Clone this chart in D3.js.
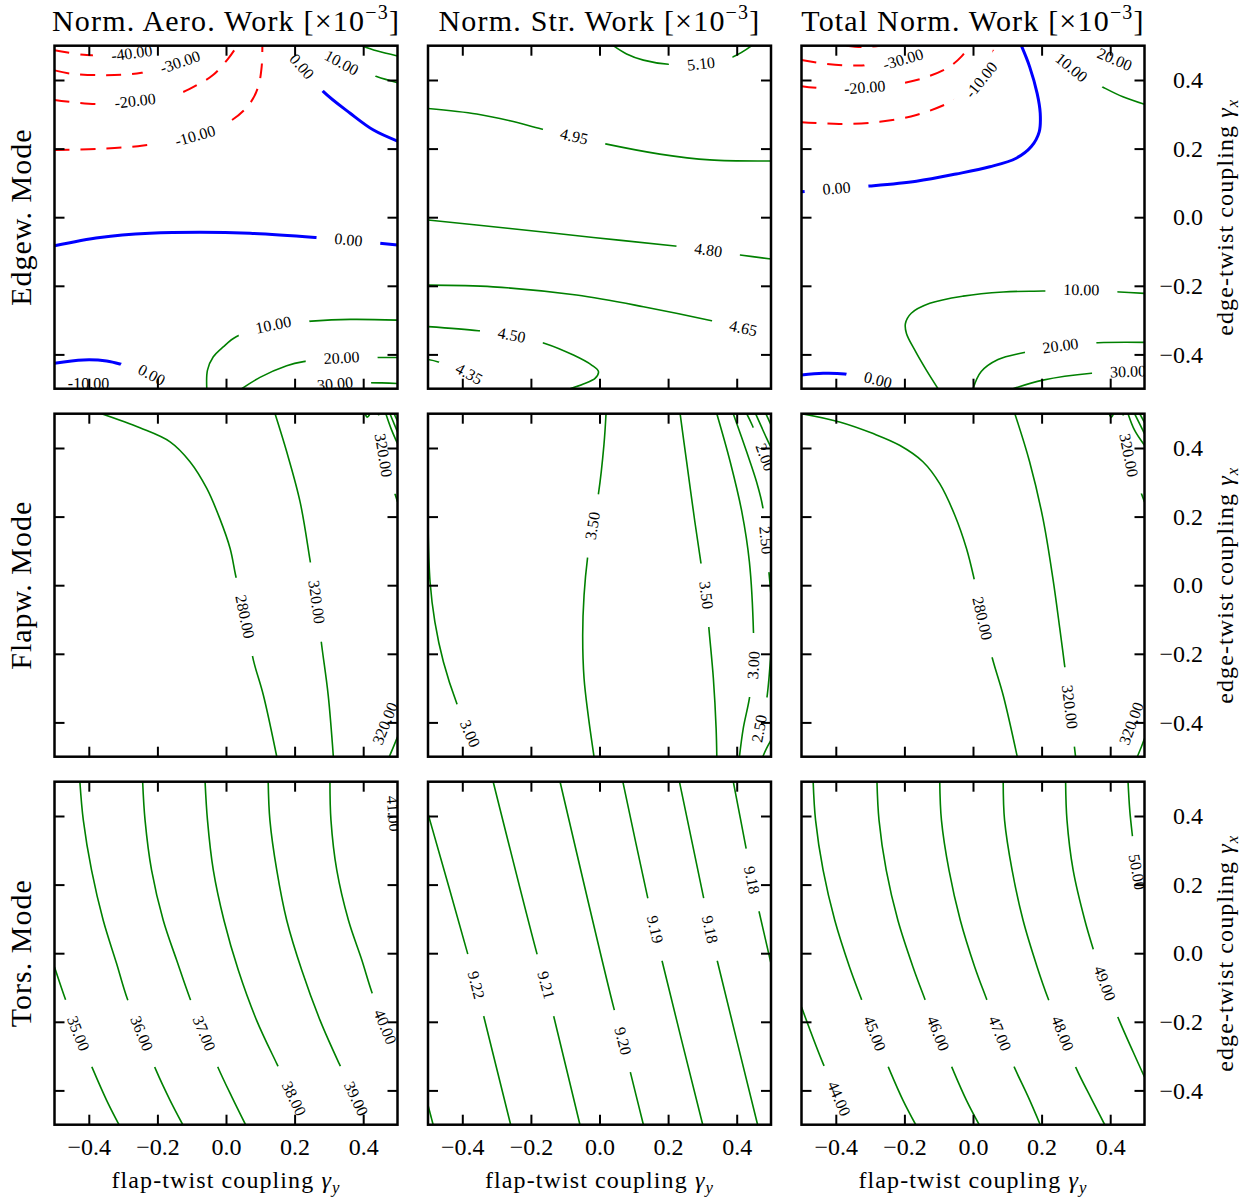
<!DOCTYPE html>
<html>
<head>
<meta charset="utf-8">
<script src="https://cdn.jsdelivr.net/npm/d3@7"></script>
<style>
  body { margin: 0; background: #fff; }
  svg text { font-family: "Liberation Serif", "Times New Roman", serif; }
</style>
</head>
<body>
<svg id="chart" width="1253" height="1201"></svg>
<script>
// Contour levels of the normalized work maps over (flap-twist coupling γy, edge-twist coupling γx).
// Each level holds its polylines as [γy, γx] points and the points where its inline labels sit.

const aeroEdgew = [
  { level: -40, lines: [[[-0.5,0.487],[-0.406,0.473],[-0.275,0.478],[-0.202,0.5]]], labels: [[-0.275,0.478]] },
  { level: -30, lines: [[[-0.5,0.428],[-0.455,0.419],[-0.353,0.414],[-0.246,0.421],[-0.134,0.452],[-0.086,0.476],[-0.054,0.5]]], labels: [[-0.134,0.452]] },
  { level: -20, lines: [[[-0.5,0.342],[-0.377,0.330],[-0.265,0.339],[-0.149,0.356],[-0.076,0.390],[-0.037,0.415],[0.007,0.463],[0.033,0.5]]], labels: [[-0.265,0.339]] },
  { level: -10, lines: [[[-0.5,0.196],[-0.377,0.199],[-0.241,0.209],[-0.090,0.237],[0.017,0.283],[0.070,0.332],[0.094,0.381],[0.104,0.439],[0.106,0.5]],
                        [[-0.465,-0.5],[-0.401,-0.486],[-0.338,-0.5]]], labels: [[-0.090,0.237],[-0.401,-0.486]] },
  { level: 0, lines: [[[0.167,0.5],[0.221,0.439],[0.284,0.366],[0.362,0.303],[0.430,0.254],[0.5,0.222]],
                      [[-0.5,-0.083],[-0.367,-0.059],[-0.222,-0.047],[-0.076,-0.044],[0.070,-0.047],[0.260,-0.059],[0.357,-0.067],[0.5,-0.081]],
                      [[-0.5,-0.426],[-0.416,-0.416],[-0.348,-0.419],[-0.309,-0.428],[-0.217,-0.460],[-0.173,-0.5]]],
    labels: [[0.221,0.439],[0.357,-0.066],[-0.217,-0.460]] },
  { level: 10, lines: [[[0.274,0.5],[0.337,0.450],[0.439,0.410],[0.5,0.392]],
                       [[-0.056,-0.5],[-0.054,-0.446],[-0.037,-0.407],[-0.008,-0.378],[0.031,-0.348],[0.138,-0.314],[0.250,-0.303],[0.362,-0.298],[0.5,-0.300]]],
    labels: [[0.337,0.450],[0.138,-0.314]] },
  { level: 20, lines: [[[0.396,0.5],[0.439,0.485],[0.5,0.470]],
                       [[0.046,-0.5],[0.099,-0.467],[0.177,-0.433],[0.226,-0.421],[0.337,-0.410],[0.449,-0.409],[0.5,-0.409]]],
    labels: [[0.337,-0.410]] },
  { level: 30, lines: [[[0.255,-0.5],[0.318,-0.486],[0.454,-0.483],[0.5,-0.485]]], labels: [[0.318,-0.486]] }
];

const strEdgew = [
  { level: 5.10, lines: [[[0.040,0.5],[0.079,0.476],[0.128,0.458],[0.201,0.446],[0.296,0.447],[0.390,0.468],[0.444,0.5]]], labels: [[0.296,0.447]] },
  { level: 4.95, lines: [[[-0.5,0.317],[-0.358,0.301],[-0.261,0.281],[-0.169,0.257],[-0.074,0.235],[0.021,0.213],[0.176,0.184],[0.322,0.167],[0.5,0.164]]], labels: [[-0.074,0.235]] },
  { level: 4.80, lines: [[[-0.5,-0.008],[-0.261,-0.033],[-0.018,-0.059],[0.220,-0.084],[0.317,-0.096],[0.410,-0.110],[0.5,-0.122]]], labels: [[0.317,-0.096]] },
  { level: 4.65, lines: [[[-0.5,-0.198],[-0.310,-0.203],[-0.067,-0.227],[0.128,-0.261],[0.327,-0.302],[0.419,-0.324],[0.5,-0.339]]], labels: [[0.419,-0.324]] },
  { level: 4.50, lines: [[[-0.5,-0.319],[-0.353,-0.331],[-0.256,-0.344],[-0.159,-0.368],[-0.076,-0.402],[-0.023,-0.431],[-0.003,-0.450],[-0.013,-0.470],[-0.047,-0.486],[-0.086,-0.5]]], labels: [[-0.256,-0.344]] },
  { level: 4.35, lines: [[[-0.5,-0.415],[-0.470,-0.422],[-0.380,-0.457],[-0.329,-0.5]]], labels: [[-0.380,-0.457]] }
];

const totalEdgew = [
  { level: -40, lines: [[[-0.369,0.5],[-0.321,0.496],[-0.272,0.5]]], labels: [] },
  { level: -30, lines: [[[-0.5,0.458],[-0.428,0.447],[-0.340,0.442],[-0.262,0.449],[-0.204,0.460],[-0.146,0.483],[-0.117,0.5]]], labels: [[-0.204,0.460]] },
  { level: -20, lines: [[[-0.5,0.382],[-0.428,0.375],[-0.316,0.378],[-0.199,0.392],[-0.126,0.412],[-0.068,0.439],[-0.034,0.468],[-0.010,0.5]]], labels: [[-0.316,0.378]] },
  { level: -10, lines: [[[-0.5,0.277],[-0.389,0.272],[-0.272,0.278],[-0.165,0.298],[-0.078,0.330],[-0.019,0.361],[0.024,0.400],[0.049,0.444],[0.063,0.5]]], labels: [[0.024,0.400]] },
  { level: 0, lines: [[[0.141,0.5],[0.165,0.439],[0.187,0.361],[0.196,0.303],[0.193,0.249],[0.170,0.206],[0.126,0.172],[0.049,0.147],[-0.049,0.126],[-0.165,0.105],[-0.301,0.091],[-0.398,0.084],[-0.5,0.074]],
                      [[-0.5,-0.460],[-0.437,-0.455],[-0.374,-0.457],[-0.277,-0.475],[-0.204,-0.5]]],
    labels: [[-0.398,0.084],[-0.277,-0.475]] },
  { level: 10, lines: [[[0.219,0.5],[0.287,0.436],[0.340,0.400],[0.379,0.379],[0.437,0.351],[0.5,0.329]],
                       [[-0.102,-0.5],[-0.136,-0.446],[-0.170,-0.387],[-0.194,-0.339],[-0.197,-0.310],[-0.180,-0.280],[-0.126,-0.251],[-0.029,-0.230],[0.088,-0.218],[0.204,-0.215],[0.316,-0.212],[0.428,-0.218],[0.5,-0.222]]],
    labels: [[0.287,0.436],[0.316,-0.212]] },
  { level: 20, lines: [[[0.345,0.5],[0.413,0.460],[0.5,0.434]],
                       [[0.0,-0.5],[0.024,-0.450],[0.073,-0.415],[0.146,-0.395],[0.255,-0.375],[0.365,-0.366],[0.5,-0.365]]],
    labels: [[0.413,0.460],[0.255,-0.375]] },
  { level: 30, lines: [[[0.117,-0.5],[0.204,-0.475],[0.345,-0.455],[0.452,-0.450],[0.5,-0.449]]], labels: [[0.452,-0.450]] }
];

const aeroFlapw = [
  { level: 280, lines: [[[-0.363,0.5],[-0.251,0.459],[-0.163,0.418],[-0.105,0.360],[-0.056,0.282],[-0.018,0.194],[0.012,0.107],[0.028,0.029],[0.055,-0.092],[0.080,-0.219],[0.109,-0.321],[0.148,-0.5]],
                        [[0.466,0.5],[0.483,0.452],[0.5,0.413]]],
    labels: [[0.055,-0.092]] },
  { level: 320, lines: [[[0.143,0.5],[0.177,0.389],[0.216,0.243],[0.245,0.073],[0.264,-0.049],[0.279,-0.175],[0.298,-0.321],[0.313,-0.5]],
                        [[0.444,0.5],[0.457,0.447],[0.467,0.379],[0.480,0.311],[0.5,0.243]],
                        [[0.476,-0.5],[0.490,-0.467],[0.5,-0.442]]],
    labels: [[0.264,-0.049],[0.459,0.379],[0.464,-0.403]] },
  { level: 360, lines: [[[0.405,0.5],[0.412,0.490],[0.420,0.5]]], labels: [] },
  { level: 240, lines: [[[0.478,0.5],[0.5,0.447]]], labels: [] },
  { level: 200, lines: [[[0.490,0.5],[0.5,0.478]]], labels: [] }
];

const strFlapw = [
  { level: 3.00, lines: [[[-0.5,0.185],[-0.494,0.010],[-0.480,-0.107],[-0.455,-0.224],[-0.416,-0.345],[-0.378,-0.433],[-0.348,-0.5]],
                         [[0.342,0.5],[0.381,0.360],[0.415,0.214],[0.437,0.068],[0.449,-0.141],[0.449,-0.233],[0.437,-0.330],[0.419,-0.418],[0.408,-0.5]]],
    labels: [[-0.378,-0.433],[0.449,-0.233]] },
  { level: 3.50, lines: [[[0.019,0.5],[0.013,0.410],[-0.003,0.267],[-0.020,0.173],[-0.035,0.078],[-0.045,-0.029],[-0.049,-0.146],[-0.045,-0.272],[-0.033,-0.379],[-0.016,-0.5]],
                         [[0.235,0.5],[0.254,0.360],[0.278,0.185],[0.296,0.063],[0.311,-0.029],[0.319,-0.126],[0.332,-0.272],[0.340,-0.418],[0.342,-0.5]]],
    labels: [[-0.020,0.173],[0.311,-0.029]] },
  { level: 2.50, lines: [[[0.390,0.5],[0.429,0.389],[0.458,0.301],[0.476,0.228],[0.485,0.131],[0.493,0.049],[0.5,-0.029]],
                         [[0.5,-0.195],[0.489,-0.321],[0.476,-0.398],[0.464,-0.457],[0.458,-0.5]]],
    labels: [[0.485,0.131],[0.466,-0.418]] },
  { level: 2.00, lines: [[[0.429,0.5],[0.445,0.467],[0.483,0.373],[0.5,0.321]],
                         [[0.476,-0.5],[0.487,-0.476],[0.5,-0.452]]],
    labels: [[0.483,0.373]] },
  { level: 1.50, lines: [[[0.455,0.5],[0.487,0.429],[0.5,0.402]]], labels: [] },
  { level: 1.00, lines: [[[0.485,0.5],[0.5,0.467]]], labels: [] }
];

const totalFlapw = [
  { level: 280, lines: [[[-0.5,0.5],[-0.389,0.476],[-0.291,0.442],[-0.214,0.408],[-0.146,0.360],[-0.097,0.296],[-0.053,0.204],[-0.019,0.107],[0.002,0.024],[0.027,-0.097],[0.058,-0.219],[0.088,-0.321],[0.129,-0.5]],
                        [[0.452,0.5],[0.471,0.452],[0.5,0.408]]],
    labels: [[0.027,-0.097]] },
  { level: 320, lines: [[[0.122,0.5],[0.165,0.360],[0.204,0.194],[0.233,0.019],[0.253,-0.126],[0.267,-0.233],[0.282,-0.355],[0.299,-0.5]],
                        [[0.437,0.5],[0.449,0.447],[0.459,0.379],[0.476,0.311],[0.5,0.243]],
                        [[0.479,-0.5],[0.491,-0.471],[0.5,-0.447]]],
    labels: [[0.282,-0.355],[0.454,0.379],[0.462,-0.403]] },
  { level: 360, lines: [[[0.397,0.5],[0.403,0.490],[0.410,0.5]]], labels: [] },
  { level: 240, lines: [[[0.471,0.5],[0.5,0.442]]], labels: [] },
  { level: 200, lines: [[[0.486,0.5],[0.5,0.474]]], labels: [] }
];

const aeroTors = [
  { level: 35, lines: [[[-0.5,-0.040],[-0.469,-0.132],[-0.431,-0.234],[-0.387,-0.341],[-0.348,-0.429],[-0.312,-0.5]]], labels: [[-0.431,-0.234]] },
  { level: 36, lines: [[[-0.426,0.5],[-0.416,0.388],[-0.392,0.242],[-0.358,0.096],[-0.319,-0.030],[-0.288,-0.132],[-0.246,-0.234],[-0.204,-0.341],[-0.163,-0.429],[-0.126,-0.5]]], labels: [[-0.246,-0.234]] },
  { level: 37, lines: [[[-0.243,0.5],[-0.236,0.388],[-0.217,0.242],[-0.183,0.096],[-0.144,-0.020],[-0.105,-0.132],[-0.064,-0.234],[-0.022,-0.336],[0.017,-0.419],[0.057,-0.5]]], labels: [[-0.064,-0.234]] },
  { level: 38, lines: [[[-0.061,0.5],[-0.054,0.388],[-0.037,0.242],[-0.006,0.096],[0.036,-0.050],[0.089,-0.195],[0.148,-0.322],[0.198,-0.424],[0.235,-0.5]]], labels: [[0.198,-0.424]] },
  { level: 39, lines: [[[0.123,0.5],[0.128,0.388],[0.148,0.242],[0.177,0.096],[0.221,-0.050],[0.274,-0.195],[0.330,-0.322],[0.379,-0.424],[0.415,-0.5]]], labels: [[0.379,-0.424]] },
  { level: 40, lines: [[[0.303,0.5],[0.306,0.388],[0.323,0.242],[0.357,0.096],[0.396,-0.020],[0.425,-0.113],[0.464,-0.215],[0.5,-0.293]]], labels: [[0.464,-0.215]] },
  { level: 41, lines: [[[0.484,0.5],[0.488,0.407],[0.5,0.330]]], labels: [[0.488,0.407]] }
];

const strTors = [
  { level: 9.23, lines: [[[-0.5,-0.443],[-0.485,-0.5]]], labels: [] },
  { level: 9.22, lines: [[[-0.5,0.407],[-0.385,0.001],[-0.360,-0.093],[-0.337,-0.186],[-0.259,-0.5]]], labels: [[-0.360,-0.093]] },
  { level: 9.21, lines: [[[-0.310,0.5],[-0.183,0.001],[-0.156,-0.093],[-0.133,-0.186],[-0.057,-0.5]]], labels: [[-0.156,-0.093]] },
  { level: 9.20, lines: [[[-0.115,0.5],[0.042,-0.161],[0.068,-0.256],[0.091,-0.351],[0.128,-0.5]]], labels: [[0.068,-0.256]] },
  { level: 9.19, lines: [[[0.068,0.5],[0.140,0.164],[0.162,0.069],[0.183,-0.025],[0.301,-0.5]]], labels: [[0.162,0.069]] },
  { level: 9.18, lines: [[[0.233,0.5],[0.303,0.164],[0.322,0.069],[0.344,-0.025],[0.461,-0.5]],
                         [[0.390,0.5],[0.427,0.308],[0.444,0.213],[0.466,0.118],[0.5,-0.030]]],
    labels: [[0.322,0.069],[0.444,0.213]] }
];

const totalTors = [
  { level: 44, lines: [[[-0.5,-0.157],[-0.437,-0.322],[-0.391,-0.424],[-0.360,-0.5]]], labels: [[-0.391,-0.424]] },
  { level: 45, lines: [[[-0.466,0.5],[-0.459,0.388],[-0.437,0.242],[-0.403,0.096],[-0.360,-0.040],[-0.326,-0.132],[-0.287,-0.234],[-0.243,-0.341],[-0.204,-0.429],[-0.167,-0.5]]], labels: [[-0.287,-0.234]] },
  { level: 46, lines: [[[-0.280,0.5],[-0.274,0.388],[-0.253,0.242],[-0.219,0.096],[-0.175,-0.040],[-0.141,-0.132],[-0.102,-0.234],[-0.058,-0.341],[-0.019,-0.429],[0.018,-0.5]]], labels: [[-0.102,-0.234]] },
  { level: 47, lines: [[[-0.097,0.5],[-0.092,0.388],[-0.070,0.242],[-0.037,0.096],[0.005,-0.040],[0.039,-0.132],[0.078,-0.234],[0.122,-0.336],[0.161,-0.419],[0.196,-0.5]]], labels: [[0.078,-0.234]] },
  { level: 48, lines: [[[0.088,0.5],[0.092,0.388],[0.114,0.242],[0.146,0.096],[0.187,-0.040],[0.219,-0.132],[0.261,-0.234],[0.301,-0.336],[0.345,-0.424],[0.384,-0.5]]], labels: [[0.261,-0.234]] },
  { level: 49, lines: [[[0.270,0.5],[0.274,0.388],[0.292,0.242],[0.326,0.096],[0.350,0.014],[0.384,-0.088],[0.426,-0.195],[0.467,-0.288],[0.5,-0.361]]], labels: [[0.384,-0.088]] },
  { level: 50, lines: [[[0.452,0.5],[0.457,0.417],[0.464,0.349],[0.478,0.237],[0.5,0.150]]], labels: [[0.478,0.237]] }
];

const tickValues = [-0.4, -0.2, 0.0, 0.2, 0.4];
const columnTitles = ["Norm. Aero. Work", "Norm. Str. Work", "Total Norm. Work"];
const rowTitles = ["Edgew. Mode", "Flapw. Mode", "Tors. Mode"];
const xAxisLabel = ["flap-twist coupling ", "γ", "y"];
const yAxisLabel = ["edge-twist coupling ", "γ", "x"];

const panels = [
  [aeroEdgew, strEdgew, totalEdgew],
  [aeroFlapw, strFlapw, totalFlapw],
  [aeroTors, strTors, totalTors]
];

// ---- layout ----
const W = 1253, H = 1201;
const size = 343, left0 = 54.5, colStep = 373.5, top0 = 45.7, rowStep = 368;
const labelFont = 16, gapPad = 36, gapHeight = 18;

const svg = d3.select("#chart");
const defs = svg.append("defs");
const measure = svg.append("text").attr("font-size", labelFont).attr("visibility", "hidden");
const textWidth = s => { measure.text(s); return measure.node().getComputedTextLength(); };

// tangent direction of the contour at the vertex nearest a label, kept upright
function labelAngle(lines, px, py, x, y) {
  let best = null, bd = Infinity;
  lines.forEach(ln => {
    const pts = ln.map(d => [x(d[0]), y(d[1])]);
    pts.forEach((p, i) => {
      const dd = (p[0] - px) ** 2 + (p[1] - py) ** 2;
      if (dd < bd) { bd = dd; best = { pts, i }; }
    });
  });
  const { pts, i } = best;
  const a = pts[Math.max(0, i - 1)], b = pts[Math.min(pts.length - 1, i + 1)];
  let ang = Math.atan2(b[1] - a[1], b[0] - a[0]) * 180 / Math.PI;
  if (ang > 90) ang -= 180;
  if (ang <= -90) ang += 180;
  return ang;
}

function lineStyle(level) {
  if (level < 0) return { stroke: "#ff0000", width: 2, dash: "15,11" };
  if (level === 0) return { stroke: "#0000ff", width: 3, dash: null };
  return { stroke: "#008000", width: 1.6, dash: null };
}

const fmt = d3.format(".1f");
const blank = () => "";

panels.forEach((row, r) => row.forEach((contours, c) => {
  const x0 = left0 + c * colStep, y0 = top0 + r * rowStep;
  const x = d3.scaleLinear().domain([-0.5, 0.5]).range([x0, x0 + size]);
  const y = d3.scaleLinear().domain([-0.5, 0.5]).range([y0 + size, y0]);
  const pid = `p${r}${c}`;

  defs.append("clipPath").attr("id", "clip-" + pid)
    .append("rect").attr("x", x0).attr("y", y0).attr("width", size).attr("height", size);

  const plot = svg.append("g").attr("clip-path", `url(#clip-${pid})`);
  const linesG = plot.append("g");
  const labelsG = plot.append("g");
  const line = d3.line().x(d => x(d[0])).y(d => y(d[1])).curve(d3.curveCatmullRom.alpha(0.5));

  contours.forEach((ct, k) => {
    const txt = ct.level.toFixed(2);
    const tw = textWidth(txt);
    const labs = ct.labels.map(p => {
      const px = x(p[0]), py = y(p[1]);
      return { px, py, ang: labelAngle(ct.lines, px, py, x, y), txt };
    });

    // cut the line where its labels sit
    const mid = `m-${pid}-${k}`;
    const mask = defs.append("mask").attr("id", mid).attr("maskUnits", "userSpaceOnUse")
      .attr("x", x0 - 5).attr("y", y0 - 5).attr("width", size + 10).attr("height", size + 10);
    mask.append("rect").attr("x", x0 - 5).attr("y", y0 - 5).attr("width", size + 10).attr("height", size + 10).attr("fill", "#fff");
    labs.forEach(l => mask.append("rect")
      .attr("x", -(tw + gapPad) / 2).attr("y", -gapHeight / 2)
      .attr("width", tw + gapPad).attr("height", gapHeight).attr("fill", "#000")
      .attr("transform", `translate(${l.px},${l.py}) rotate(${l.ang})`));

    const st = lineStyle(ct.level);
    linesG.append("g").attr("mask", `url(#${mid})`)
      .selectAll("path").data(ct.lines).join("path")
      .attr("d", line).attr("fill", "none")
      .attr("stroke", st.stroke).attr("stroke-width", st.width)
      .attr("stroke-dasharray", st.dash)
      .attr("stroke-linecap", "butt");

    labelsG.selectAll(null).data(labs).join("text")
      .attr("font-size", labelFont).attr("text-anchor", "middle").attr("dy", "0.33em")
      .attr("fill", "#000")
      .attr("transform", d => `translate(${d.px},${d.py}) rotate(${d.ang})`)
      .text(d => d.txt);
  });

  // ticks on all four sides, pointing inward
  const axes = svg.append("g");
  const place = (axis, tx, ty) => {
    const g = axes.append("g").attr("transform", `translate(${tx},${ty})`).call(axis);
    g.select(".domain").remove();
    g.selectAll(".tick line").attr("stroke", "#000").attr("stroke-width", 2);
    g.selectAll(".tick text").attr("fill", "#000").attr("font-size", 24);
    return g;
  };
  const bottom = place(d3.axisBottom(x).tickValues(tickValues).tickSize(-10).tickFormat(r === 2 ? fmt : blank), 0, y0 + size);
  bottom.selectAll(".tick text").attr("y", 30).attr("dy", 0);
  place(d3.axisTop(x).tickValues(tickValues).tickSize(-10).tickFormat(blank), 0, y0);
  place(d3.axisLeft(y).tickValues(tickValues).tickSize(-10).tickFormat(blank), x0, 0);
  const right = place(d3.axisRight(y).tickValues(tickValues).tickSize(-10).tickFormat(c === 2 ? fmt : blank), x0 + size, 0);
  right.selectAll(".tick text").attr("x", 58.5).attr("text-anchor", "end");

  axes.append("rect").attr("x", x0).attr("y", y0).attr("width", size).attr("height", size)
    .attr("fill", "none").attr("stroke", "#000").attr("stroke-width", 2.5);
}));

measure.remove();

// column titles
columnTitles.forEach((t, c) => {
  const cx = left0 + c * colStep + size / 2;
  const tt = svg.append("text").attr("x", cx).attr("y", 31).attr("text-anchor", "middle")
    .attr("font-size", 30).attr("letter-spacing", 1.2);
  tt.append("tspan").text(t + " [×10");
  tt.append("tspan").attr("font-size", 20).attr("dy", -12).text("−3");
  tt.append("tspan").attr("dy", 12).text("]");
});

// row titles
rowTitles.forEach((t, r) => {
  const cy = top0 + r * rowStep + size / 2;
  svg.append("text").attr("transform", `translate(31,${cy}) rotate(-90)`)
    .attr("text-anchor", "middle").attr("font-size", 30).attr("letter-spacing", 1).text(t);
});

// axis labels: bottom of each column, right of each row
function mathLabel(sel, parts, size) {
  sel.append("tspan").text(parts[0]);
  sel.append("tspan").attr("font-style", "italic").text(parts[1]);
  sel.append("tspan").attr("font-style", "italic").attr("font-size", size * 0.7).attr("dy", size * 0.22).text(parts[2]);
}
[0, 1, 2].forEach(c => {
  const cx = left0 + c * colStep + size / 2;
  const t = svg.append("text").attr("x", cx).attr("y", 1188).attr("text-anchor", "middle")
    .attr("font-size", 24).attr("letter-spacing", 1.1);
  mathLabel(t, xAxisLabel, 24);
});
[0, 1, 2].forEach(r => {
  const cy = top0 + r * rowStep + size / 2;
  const t = svg.append("text").attr("transform", `translate(1233,${cy}) rotate(-90)`)
    .attr("text-anchor", "middle").attr("font-size", 24).attr("letter-spacing", 1.1);
  mathLabel(t, yAxisLabel, 24);
});
</script>
</body>
</html>
